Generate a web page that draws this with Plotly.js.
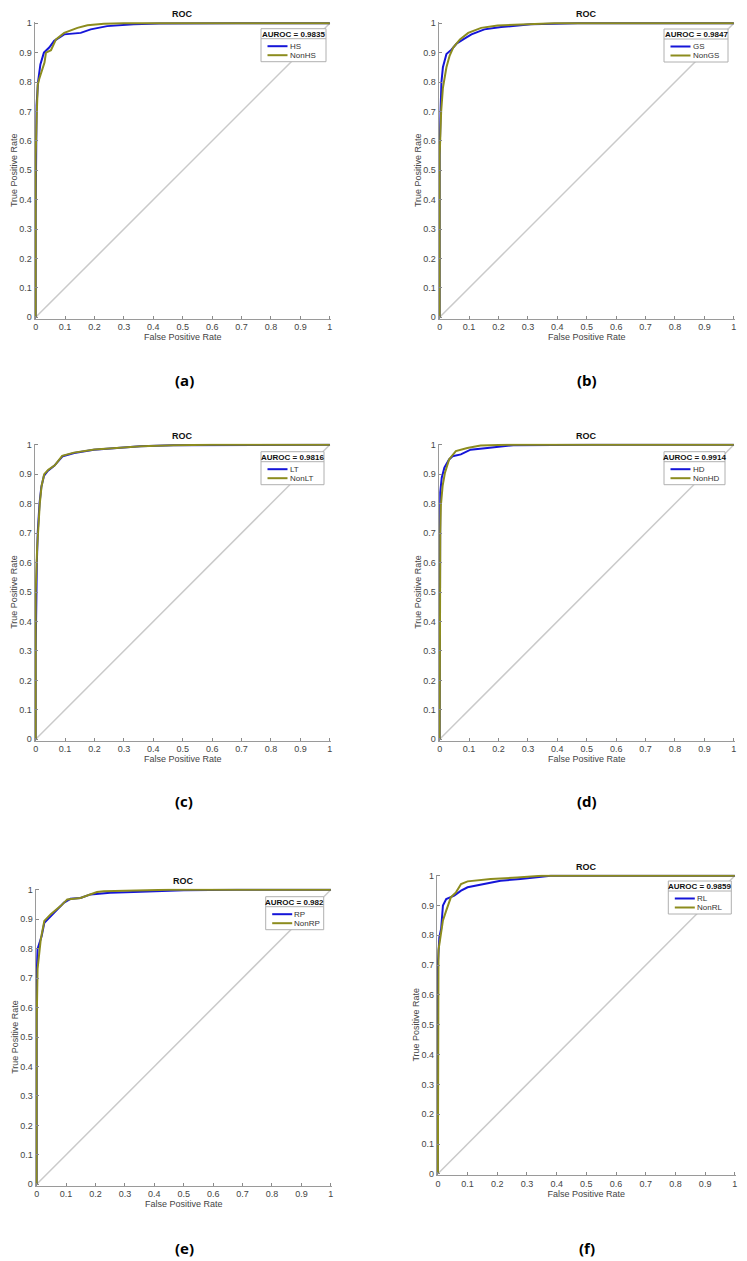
<!DOCTYPE html>
<html>
<head>
<meta charset="utf-8">
<script src="https://cdn.plot.ly/plotly-3.0.1.min.js"></script>
<style>
  html, body { margin: 0; padding: 0; background: #fff; }
  #roc { width: 747px; height: 1261px; }
</style>
</head>
<body>
<div id="roc"></div>
<script>
// classes + AUROC per panel
const classNames = ['HS', 'GS', 'LT', 'HD', 'RP', 'RL'];
const aurocs = ['0.9835', '0.9847', '0.9816', '0.9914', '0.982', '0.9859'];
const panelTags = ['(a)', '(b)', '(c)', '(d)', '(e)', '(f)'];
const tickVals = [0, 0.1, 0.2, 0.3, 0.4, 0.5, 0.6, 0.7, 0.8, 0.9, 1];

// ROC points (class curve, then Non-class curve)
const fprHS = [0, 0, 0.003, 0.008, 0.016, 0.028, 0.046, 0.063, 0.097, 0.153, 0.187, 0.243, 0.333, 0.42, 0.68, 1];
const tprHS = [0, 0.35, 0.72, 0.8, 0.86, 0.9, 0.917, 0.94, 0.962, 0.967, 0.979, 0.99, 0.996, 0.999, 1, 1];
const fprNonHS = [0, 0, 0.004, 0.007, 0.012, 0.019, 0.03, 0.035, 0.052, 0.069, 0.097, 0.142, 0.176, 0.232, 0.3, 1];
const tprNonHS = [0, 0.55, 0.7, 0.79, 0.81, 0.83, 0.866, 0.9, 0.908, 0.945, 0.967, 0.984, 0.993, 0.998, 1, 1];

const fprGS = [0, 0, 0.003, 0.006, 0.011, 0.023, 0.04, 0.057, 0.08, 0.108, 0.152, 0.209, 0.31, 0.39, 0.47, 1];
const tprGS = [0, 0.55, 0.7, 0.8, 0.85, 0.895, 0.91, 0.93, 0.945, 0.962, 0.979, 0.987, 0.996, 0.999, 1, 1];
const fprNonGS = [0, 0, 0.005, 0.011, 0.023, 0.034, 0.046, 0.069, 0.097, 0.141, 0.197, 0.276, 0.39, 1];
const tprNonGS = [0, 0.55, 0.7, 0.78, 0.85, 0.89, 0.917, 0.945, 0.967, 0.984, 0.992, 0.996, 1, 1];

const fprLT = [0, 0, 0.004, 0.007, 0.013, 0.019, 0.028, 0.041, 0.063, 0.092, 0.131, 0.198, 0.277, 0.355, 0.467, 0.8, 1];
const tprLT = [0, 0.3, 0.6, 0.703, 0.8, 0.855, 0.894, 0.911, 0.928, 0.961, 0.972, 0.983, 0.989, 0.995, 0.998, 1, 1];
const fprNonLT = [0, 0, 0.005, 0.008, 0.014, 0.02, 0.029, 0.043, 0.065, 0.09, 0.13, 0.2, 0.28, 0.36, 0.47, 0.6, 1];
const tprNonLT = [0, 0.5, 0.65, 0.71, 0.8, 0.86, 0.9, 0.915, 0.93, 0.962, 0.973, 0.984, 0.99, 0.995, 0.998, 1, 1];

const fprHD = [0, 0, 0, 0.002, 0.007, 0.016, 0.032, 0.044, 0.072, 0.105, 0.162, 0.229, 0.25, 0.52, 1];
const tprHD = [0, 0.5, 0.76, 0.838, 0.888, 0.922, 0.95, 0.961, 0.967, 0.983, 0.989, 0.995, 0.998, 1, 1];
const fprNonHD = [0, 0, 0.002, 0.004, 0.01, 0.018, 0.032, 0.055, 0.094, 0.139, 0.23, 1];
const tprNonHD = [0, 0.45, 0.7, 0.793, 0.86, 0.905, 0.95, 0.978, 0.989, 0.997, 1, 1];

const fprRP = [0, 0, 0, 0.003, 0.017, 0.026, 0.043, 0.065, 0.093, 0.115, 0.149, 0.183, 0.25, 0.329, 0.418, 0.5, 0.68, 1];
const tprRP = [0, 0.35, 0.709, 0.799, 0.843, 0.888, 0.905, 0.928, 0.956, 0.969, 0.972, 0.984, 0.99, 0.992, 0.995, 0.998, 1, 1];
const fprNonRP = [0, 0, 0.003, 0.014, 0.026, 0.048, 0.082, 0.104, 0.149, 0.205, 0.228, 0.33, 0.45, 1];
const tprNonRP = [0, 0.55, 0.731, 0.832, 0.894, 0.917, 0.945, 0.967, 0.972, 0.992, 0.995, 0.998, 1, 1];

const fprRL = [0, 0, 0, 0.005, 0.011, 0.017, 0.028, 0.055, 0.078, 0.1, 0.156, 0.211, 0.278, 0.345, 0.38, 0.47, 1];
const tprRL = [0, 0.45, 0.706, 0.794, 0.822, 0.9, 0.922, 0.933, 0.95, 0.961, 0.972, 0.983, 0.989, 0.997, 1, 1, 1];
const fprNonRL = [0, 0, 0.002, 0.011, 0.017, 0.028, 0.044, 0.061, 0.078, 0.1, 0.178, 0.267, 0.35, 1];
const tprNonRL = [0, 0.5, 0.75, 0.81, 0.85, 0.883, 0.928, 0.944, 0.972, 0.981, 0.989, 0.994, 1, 1];

const curves = [
    [fprHS, tprHS, fprNonHS, tprNonHS],
    [fprGS, tprGS, fprNonGS, tprNonGS],
    [fprLT, tprLT, fprNonLT, tprNonLT],
    [fprHD, tprHD, fprNonHD, tprNonHD],
    [fprRP, tprRP, fprNonRP, tprNonRP],
    [fprRL, tprRL, fprNonRL, tprNonRL]
];

// --- layout geometry (pixels in the 747x1261 page) ---
const W = 747, H = 1261;
const boxes = [ // left, right, top(y=1), bottom(y=0)
    [34.5, 331, 22, 318.5],
    [438.5, 735, 22, 318.5],
    [34.5, 331, 443.5, 740.5],
    [438.5, 735, 443.5, 740.5],
    [35.5, 332, 888.5, 1185.5],
    [436.7, 736, 874.5, 1175]
];
// MATLAB-style legend boxes: left, top, width
const legendBox = [[261, 28.7, 65], [664, 29, 64], [261, 451.7, 63], [664, 451.7, 61], [265.7, 896.7, 58], [668.3, 881, 63]];
const tagPos = [[184, 380], [587, 380], [184, 801], [587, 801], [184, 1248], [587, 1248]];

const FONT = 'Liberation Sans, Arial, sans-serif';
const BLUE = '#1515d8', OLIVE = '#8c8c1e';
const AXIS = {
    range: [-0.004, 1.004], tickvals: tickVals, ticks: 'inside', ticklen: 3,
    tickcolor: '#8a8a8a', showline: true, linecolor: '#9a9a9a', linewidth: 1,
    showgrid: false, zeroline: false, fixedrange: true,
    tickfont: { family: FONT, size: 9, color: '#444' }
};

const px = v => v / W;
const py = v => 1 - v / H;

const traces = [];
const layout = {
    width: W, height: H, margin: { l: 0, r: 0, t: 0, b: 0 },
    paper_bgcolor: '#fff', plot_bgcolor: '#fff', showlegend: false,
    font: { family: FONT }, annotations: [], shapes: []
};

curves.forEach((c, i) => {
    const n = i + 1, sx = n === 1 ? '' : n;
    const xa = 'x' + sx, ya = 'y' + sx;
    const [l, r, t, b] = boxes[i];

    layout['xaxis' + sx] = { ...AXIS, domain: [l / W, r / W], anchor: ya,
        title: { text: 'False Positive Rate', font: { family: FONT, size: 9, color: '#444' }, standoff: 2 } };
    layout['yaxis' + sx] = { ...AXIS, domain: [1 - b / H, 1 - t / H], anchor: xa,
        title: { text: 'True Positive Rate', font: { family: FONT, size: 9, color: '#444' }, standoff: 0 } };

    // chance diagonal
    traces.push({ x: [0, 1], y: [0, 1], xaxis: xa, yaxis: ya, mode: 'lines',
        line: { color: '#cacaca', width: 1.5 }, hoverinfo: 'skip' });
    traces.push({ x: c[0], y: c[1], xaxis: xa, yaxis: ya, mode: 'lines', name: classNames[i],
        line: { color: BLUE, width: 2 } });
    traces.push({ x: c[2], y: c[3], xaxis: xa, yaxis: ya, mode: 'lines', name: 'Non' + classNames[i],
        line: { color: OLIVE, width: 2 } });

    // legend box drawn by hand (title row + separator + 2 entries)
    const [lx, ly, lw] = legendBox[i];
    layout.shapes.push({ type: 'rect', xref: 'paper', yref: 'paper', x0: px(lx), x1: px(lx + lw), y0: py(ly), y1: py(ly + 33),
        line: { color: '#b0b0b0', width: 1 }, fillcolor: '#fff' });
    layout.shapes.push({ type: 'line', xref: 'paper', yref: 'paper', x0: px(lx), x1: px(lx + lw), y0: py(ly + 10), y1: py(ly + 10),
        line: { color: '#b0b0b0', width: 1 } });
    layout.annotations.push({ xref: 'paper', yref: 'paper', x: px(lx + lw / 2), y: py(ly + 5.3), xanchor: 'center', yanchor: 'middle',
        showarrow: false, text: '<b>AUROC = ' + aurocs[i] + '</b>', font: { family: FONT, size: 8, color: '#111' } });
    [[classNames[i], BLUE, 17.5], ['Non' + classNames[i], OLIVE, 26.5]].forEach(([lab, col, dy]) => {
        layout.shapes.push({ type: 'line', xref: 'paper', yref: 'paper', x0: px(lx + 6.5), x1: px(lx + 26.5), y0: py(ly + dy), y1: py(ly + dy),
            line: { color: col, width: 2 } });
        layout.annotations.push({ xref: 'paper', yref: 'paper', x: px(lx + 26.5), y: py(ly + dy), xanchor: 'left', yanchor: 'middle',
            showarrow: false, text: lab, font: { family: FONT, size: 8, color: '#333' } });
    });

    layout.annotations.push({ xref: xa + ' domain', yref: ya + ' domain', x: 0.5, y: 1, yanchor: 'bottom',
        yshift: 1, showarrow: false, text: '<b>ROC</b>', font: { family: FONT, size: 9, color: '#111' } });
    layout.annotations.push({ xref: 'paper', yref: 'paper', x: px(tagPos[i][0]), y: py(tagPos[i][1]), xanchor: 'center', yanchor: 'middle',
        showarrow: false, text: '<b>' + panelTags[i] + '</b>', font: { family: 'Open Sans, sans-serif', size: 15, color: '#000' } });
});

Plotly.newPlot('roc', traces, layout, { displayModeBar: false, staticPlot: true });
</script>
</body>
</html>
